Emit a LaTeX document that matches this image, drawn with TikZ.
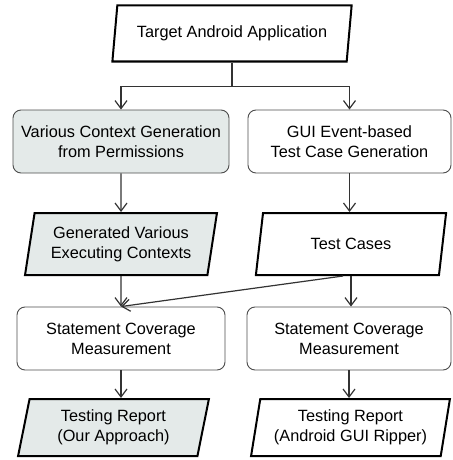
\documentclass[tikz,border=0pt]{standalone}
\usepackage{fontspec}
\setmainfont{Liberation Sans}
\usetikzlibrary{arrows.meta}
\usetikzlibrary{shapes.geometric}
\usetikzlibrary{calc}
\definecolor{ctxgray}{HTML}{E4EAE9}
\tikzstyle{StepBox}=[rectangle, rounded corners=8pt, draw=black!70, line width=0.9pt, align=center, minimum height=63pt]
\tikzstyle{DataBox}=[trapezium, trapezium left angle=79, trapezium right angle=101, trapezium stretches=true, draw=black, line width=2pt, align=center]
\tikzstyle{OurNode}=[fill=ctxgray]
\tikzstyle{FlowEdge}=[-{Straight Barb[length=8pt,width=12pt]}, line width=1.2pt, draw=black!80]

\begin{document}
\begin{tikzpicture}[x=1pt, y=-1pt, font=\fontsize{16.3}{20}\selectfont]
\useasboundingbox (0,0) rectangle (452,460);
\node[DataBox, minimum width=240pt, minimum height=56pt](TAA) at (232,33.5) {Target Android Application};

\node[StepBox, OurNode, minimum width=216pt](VCG) at (121,141.5) {Various Context Generation\\from Permissions};
\node[StepBox, minimum width=203pt](GUI) at (349.5,141.5) {GUI Event-based\\Test Case Generation};

\node[DataBox, OurNode, minimum width=192pt, minimum height=62pt](GVC) at (121,244) {Generated Various\\Executing Contexts};
\node[DataBox, minimum width=192pt, minimum height=62pt](TC) at (351,244) {Test Cases};

\node[StepBox, minimum width=208pt](SCL) at (121,338.5) {Statement Coverage\\Measurement};
\node[StepBox, minimum width=204pt](SCR) at (349,338.5) {Statement Coverage\\Measurement};

\node[DataBox, OurNode, minimum width=191pt, minimum height=57pt](TRL) at (113.5,427.5) {Testing Report\\(Our Approach)};
\node[DataBox, minimum width=199pt, minimum height=57pt](TRR) at (350.5,427.5) {Testing Report\\(Android GUI Ripper)};

% fork below the application
\draw[line width=1.2pt, draw=black!80](TAA.south) -- ++(0,24) coordinate (Fork);
\draw[FlowEdge](Fork) -| (VCG.north);
\draw[FlowEdge](Fork) -| (GUI.north);

\draw[FlowEdge](VCG) -- (GVC);
\draw[FlowEdge](GUI.south) -- (GUI.south |- TC.north);
\draw[FlowEdge](GVC) -- (SCL);
\draw[FlowEdge](TC.south) -- (TC.south |- SCR.north);
\draw[FlowEdge]([xshift=-8pt]TC.south) -- (SCL.north);
\draw[FlowEdge](SCL.south) -- (SCL.south |- TRL.north);
\draw[FlowEdge](SCR.south) -- (SCR.south |- TRR.north);

\end{tikzpicture}
\end{document}
